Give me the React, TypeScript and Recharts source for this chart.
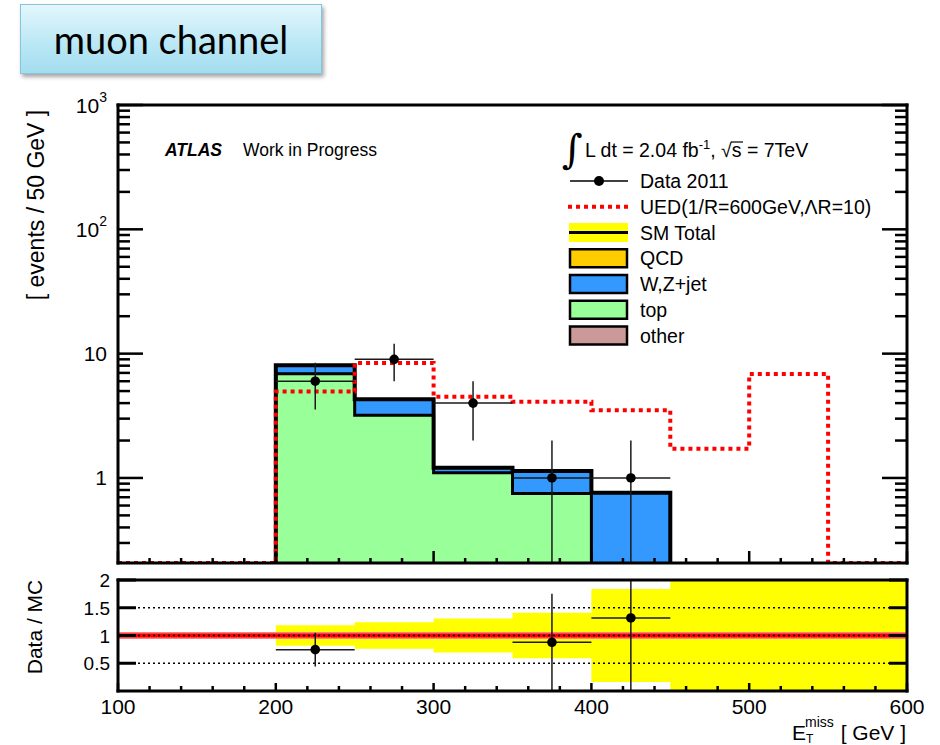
import React from "react";
import {
  ComposedChart,
  Area,
  Line,
  Scatter,
  ErrorBar,
  XAxis,
  YAxis,
  ReferenceLine,
} from "recharts";

// lower edges of the 50 GeV missing-ET bins
const binLow = [100, 150, 200, 250, 300, 350, 400, 450, 500, 550];
const BIN_WIDTH = 50;

// expected events per bin (stacked bottom to top: other, top, W/Z+jet, QCD)
const otherYield = [0, 0, 0, 0, 0, 0, 0, 0, 0, 0];
const topYield = [0, 0, 6.9, 3.2, 1.1, 0.75, 0, 0, 0, 0];
const wzJetYield = [0, 0, 1.15, 1.1, 0.11, 0.39, 0.76, 0, 0, 0];
const qcdYield = [0, 0, 0, 0, 0, 0, 0, 0, 0, 0];

// signal model
const uedYield = [0, 0, 4.95, 8.4, 4.5, 4.1, 3.5, 1.72, 6.85, 0];

// observed events
const dataCounts = [0, 0, 6, 9, 4, 1, 1, 0, 0, 0];
const dataErrors = [0, 0, 2.45, 3, 2, 1, 1, 0, 0, 0];

// relative MC uncertainty for the ratio band (null = no prediction)
const mcRelErr = [null, null, 0.185, 0.237, 0.306, 0.41, 0.84, 1, 1, 1];

const xMajorTicks = [100, 200, 300, 400, 500, 600];
const logMajorTicks = [1, 10, 100, 1000];
const ratioTicks = [0.5, 1, 1.5, 2];

const Y_MIN = 0.207;
const Y_MAX = 1000;
const RATIO_MAX = 2;

const FONT = "'Liberation Sans', Arial, Helvetica, sans-serif";
const TICK_W = 2.5;
const frameLine = { stroke: "#000", strokeWidth: 3, strokeLinecap: "square" as const };

// minor ticks every 20 GeV
const xTicks: number[] = [];
for (let v = 100; v <= 600; v += 20) xTicks.push(v);

// log ticks: 1..9 per decade inside the range
const logTicks: number[] = [];
[0.1, 1, 10, 100].forEach((d) => {
  for (let k = 1; k <= 9; k++) {
    const v = Number((k * d).toPrecision(3));
    if (v >= Y_MIN) logTicks.push(v);
  }
});
logTicks.push(1000);

type Pt = { x: number; y: number };

// cumulative stack heights
const layersIn = [otherYield, topYield, wzJetYield, qcdYield];
const [stackOther, stackTop, stackWZ, stackQCD] = layersIn.map((_, k) =>
  binLow.map((__, i) => layersIn.slice(0, k + 1).reduce((s, l) => s + l[i], 0))
);
const mcTotal = stackQCD;

const stackLayers = [
  { name: "QCD", own: qcdYield, values: stackQCD, fill: "#ffcc00" },
  { name: "W,Z+jet", own: wzJetYield, values: stackWZ, fill: "#3399ff" },
  { name: "top", own: topYield, values: stackTop, fill: "#99ff99" },
  { name: "other", own: otherYield, values: stackOther, fill: "#cc9999" },
].filter((l) => l.own.some((v) => v > 0));

// step points of a histogram; trimmed ones drop down to the axis floor at both ends
function histSteps(values: number[], trim: boolean): Pt[] {
  let first = 0;
  let last = values.length - 1;
  if (trim) {
    first = values.findIndex((v) => v > 0);
    if (first < 0) return [];
    while (values[last] <= 0) last--;
  }
  const hi = binLow[last] + BIN_WIDTH;
  const pts: Pt[] = [];
  if (trim) pts.push({ x: binLow[first], y: Y_MIN });
  for (let i = first; i <= last; i++) pts.push({ x: binLow[i], y: Math.max(values[i], Y_MIN) });
  pts.push({ x: hi, y: Math.max(values[last], Y_MIN) });
  if (trim) pts.push({ x: hi, y: Y_MIN });
  return pts;
}

const centers = binLow.map((b) => b + BIN_WIDTH / 2);

// error bars are cut at the panel edges
const dataPoints = binLow
  .map((_, i) => ({
    x: centers[i],
    y: dataCounts[i],
    ex: BIN_WIDTH / 2,
    ey: [Math.min(dataErrors[i], dataCounts[i] - Y_MIN), Math.min(dataErrors[i], Y_MAX - dataCounts[i])],
  }))
  .filter((p) => p.y > 0);

const ratioPoints = binLow
  .map((_, i) => {
    const mc = mcTotal[i];
    if (!(mc > 0) || dataCounts[i] <= 0) return null;
    const r = dataCounts[i] / mc;
    const e = dataErrors[i] / mc;
    return { x: centers[i], y: r, ex: BIN_WIDTH / 2, ey: [Math.min(e, r), Math.min(e, RATIO_MAX - r)] };
  })
  .filter((p): p is { x: number; y: number; ex: number; ey: number[] } => p !== null && p.y <= RATIO_MAX);

const bandIdx = binLow.map((_, i) => i).filter((i) => mcRelErr[i] !== null);
const bandPoints = bandIdx.map((i) => ({ x: binLow[i], band: [1 - (mcRelErr[i] as number), 1 + (mcRelErr[i] as number)] }));
if (bandIdx.length) {
  const li = bandIdx[bandIdx.length - 1];
  bandPoints.push({ x: binLow[li] + BIN_WIDTH, band: bandPoints[bandPoints.length - 1].band });
}

function makeXTick(dir: number, majorLen: number, minorLen: number, withLabel: boolean) {
  return (props: any) => {
    const { x, y, payload } = props;
    const v = payload.value as number;
    const major = xMajorTicks.includes(v);
    return (
      <g>
        <line x1={x} y1={y} x2={x} y2={y + dir * (major ? majorLen : minorLen)} stroke="#000" strokeWidth={TICK_W} />
        {withLabel && major && (
          <text x={x} y={y + 23} textAnchor="middle" fontSize={21} fontFamily={FONT} fill="#000">
            {v}
          </text>
        )}
      </g>
    );
  };
}

function makeLogTick(dir: number, withLabel: boolean) {
  return (props: any) => {
    const { x, y, payload } = props;
    const v = payload.value as number;
    const major = logMajorTicks.includes(v);
    const exp = Math.round(Math.log10(v));
    return (
      <g>
        <line x1={x} y1={y} x2={x + dir * (major ? 25 : 12)} y2={y} stroke="#000" strokeWidth={TICK_W} />
        {withLabel && major && (
          <text x={x - 11} y={y + 7.5} textAnchor="end" fontSize={21} fontFamily={FONT} fill="#000">
            {exp >= 2 ? (
              <>
                10
                <tspan dy={-11} fontSize={14}>
                  {exp}
                </tspan>
              </>
            ) : (
              String(v)
            )}
          </text>
        )}
      </g>
    );
  };
}

function makeRatioTick(dir: number, withLabel: boolean) {
  return (props: any) => {
    const { x, y, payload } = props;
    return (
      <g>
        <line x1={x} y1={y} x2={x + dir * 18} y2={y} stroke="#000" strokeWidth={3} />
        {withLabel && (
          <text x={x - 8} y={y + 7} textAnchor="end" fontSize={19} fontFamily={FONT} fill="#000">
            {payload.value}
          </text>
        )}
      </g>
    );
  };
}

// axes are 1px thick so that they render; ticks and labels are drawn by the tick renderers
const axisBase = { tickLine: false, tickSize: 0, tickMargin: 0, interval: 0 as const, axisLine: frameLine };

const legendItems = [
  { label: "Data 2011", kind: "data", fill: "" },
  { label: "UED(1/R=600GeV,\u039BR=10)", kind: "ued", fill: "" },
  { label: "SM Total", kind: "sm", fill: "" },
  { label: "QCD", kind: "box", fill: "#ffcc00" },
  { label: "W,Z+jet", kind: "box", fill: "#3399ff" },
  { label: "top", kind: "box", fill: "#99ff99" },
  { label: "other", kind: "box", fill: "#cc9999" },
];

const MainPanel = () => (
  <ComposedChart width={940} height={575} margin={{ top: 104, right: 32, bottom: 11, left: 117 }}>
    {stackLayers.map((l) => (
      <Area
        key={l.name}
        data={histSteps(l.values, true)}
        dataKey="y"
        type="stepAfter"
        baseValue={Y_MIN}
        fill={l.fill}
        fillOpacity={1}
        stroke="none"
        isAnimationActive={false}
      />
    ))}
    {stackLayers.slice(1).map((l) => (
      <Line
        key={l.name + "-edge"}
        data={histSteps(l.values, true)}
        dataKey="y"
        type="stepAfter"
        stroke="#000"
        strokeWidth={3}
        dot={false}
        isAnimationActive={false}
      />
    ))}
    <Line
      data={histSteps(mcTotal, true)}
      dataKey="y"
      type="stepAfter"
      stroke="#000"
      strokeWidth={4}
      dot={false}
      isAnimationActive={false}
    />
    <Line
      data={histSteps(uedYield, false)}
      dataKey="y"
      type="stepAfter"
      stroke="#ff0000"
      strokeWidth={4}
      strokeDasharray="4 4"
      dot={false}
      isAnimationActive={false}
    />
    <Scatter
      data={dataPoints}
      isAnimationActive={false}
      shape={(p: any) => <circle cx={p.cx} cy={p.cy} r={4.8} fill="#000" />}
    >
      <ErrorBar dataKey="ey" direction="y" width={0} stroke="#1a1a1a" strokeWidth={1.5} isAnimationActive={false} />
      <ErrorBar dataKey="ex" direction="x" width={0} stroke="#1a1a1a" strokeWidth={1.5} isAnimationActive={false} />
    </Scatter>
    <XAxis dataKey="x" type="number" domain={[100, 600]} allowDataOverflow ticks={xTicks} height={1} tick={makeXTick(-1, 12, 5, false)} {...axisBase} />
    <XAxis xAxisId="top" orientation="top" type="number" domain={[100, 600]} allowDataOverflow ticks={xTicks} height={1} tick={makeXTick(1, 12, 5, false)} {...axisBase} />
    <YAxis dataKey="y" scale="log" type="number" domain={[Y_MIN, Y_MAX]} allowDataOverflow ticks={logTicks} width={1} tick={makeLogTick(1, true)} {...axisBase} />
    <YAxis yAxisId="right" orientation="right" scale="log" type="number" domain={[Y_MIN, Y_MAX]} allowDataOverflow ticks={logTicks} width={1} tick={makeLogTick(-1, false)} {...axisBase} />
  </ComposedChart>
);

const RatioPanel = () => (
  <ComposedChart width={940} height={175} margin={{ top: 9, right: 32, bottom: 53, left: 117 }}>
    <Area data={bandPoints} dataKey="band" type="stepAfter" fill="#ffff00" fillOpacity={1} stroke="none" isAnimationActive={false} />
    <ReferenceLine y={1} stroke="#ff8080" strokeWidth={7} />
    <ReferenceLine y={1} stroke="#ff0000" strokeWidth={4} />
    <ReferenceLine y={0.5} stroke="#000" strokeWidth={1.5} strokeDasharray="2 3" />
    <ReferenceLine y={1} stroke="#000" strokeWidth={1.5} strokeDasharray="2 3" />
    <ReferenceLine y={1.5} stroke="#000" strokeWidth={1.5} strokeDasharray="2 3" />
    <Scatter
      data={ratioPoints}
      isAnimationActive={false}
      shape={(p: any) => <circle cx={p.cx} cy={p.cy} r={4.8} fill="#000" />}
    >
      <ErrorBar dataKey="ey" direction="y" width={0} stroke="#1a1a1a" strokeWidth={1.5} isAnimationActive={false} />
      <ErrorBar dataKey="ex" direction="x" width={0} stroke="#1a1a1a" strokeWidth={1.5} isAnimationActive={false} />
    </Scatter>
    <XAxis dataKey="x" type="number" domain={[100, 600]} allowDataOverflow ticks={xTicks} height={1} tick={makeXTick(-1, 8, 5, true)} {...axisBase} />
    <XAxis xAxisId="top" orientation="top" type="number" domain={[100, 600]} allowDataOverflow ticks={xTicks} height={1} tick={makeXTick(1, 8, 5, false)} {...axisBase} />
    <YAxis dataKey="y" type="number" domain={[0, RATIO_MAX]} allowDataOverflow ticks={ratioTicks} width={1} tick={makeRatioTick(1, true)} {...axisBase} />
    <YAxis yAxisId="right" orientation="right" type="number" domain={[0, RATIO_MAX]} allowDataOverflow ticks={ratioTicks} width={1} tick={makeRatioTick(-1, false)} {...axisBase} />
  </ComposedChart>
);

const Annotations = () => {
  const y0 = 181;
  const step = 25.75;
  return (
    <svg width={940} height={745} style={{ position: "absolute", left: 0, top: 0, pointerEvents: "none" }} fontFamily={FONT}>
      <text transform="translate(36,205) rotate(-90)" textAnchor="middle" dominantBaseline="central" fontSize={23}>
        [ events / 50 GeV ]
      </text>
      <text transform="translate(34,627) rotate(-90)" textAnchor="middle" dominantBaseline="central" fontSize={21}>
        Data / MC
      </text>
      <text x={792} y={740} fontSize={21}>E</text>
      <text x={805} y={727} fontSize={14}>miss</text>
      <text x={806} y={743} fontSize={12}>T</text>
      <text x={906} y={740} fontSize={21} textAnchor="end">[ GeV ]</text>

      <text x={165} y={156} fontSize={17.5} fontWeight="bold" fontStyle="italic">ATLAS</text>
      <text x={243} y={156} fontSize={17.5}>Work in Progress</text>

      <text x={562} y={163} fontSize={40} fontFamily="'DejaVu Serif', serif">{"\u222B"}</text>
      <text x={585} y={157} fontSize={19.5}>
        L dt = 2.04 fb
        <tspan dy={-8} fontSize={13}>-1</tspan>
        <tspan dy={8}>, {"\u221A"}s = 7TeV</tspan>
      </text>
      {/* vinculum of the square root over s */}
      <line x1={731} x2={743} y1={142} y2={142} stroke="#000" strokeWidth={1.2} />

      {legendItems.map((it, k) => {
        const cy = y0 + k * step;
        return (
          <g key={it.label}>
            {it.kind === "data" && (
              <>
                <line x1={570} x2={628} y1={cy} y2={cy} stroke="#000" strokeWidth={1.5} />
                <circle cx={599} cy={cy} r={5} fill="#000" />
              </>
            )}
            {it.kind === "ued" && (
              <line x1={568} x2={628} y1={cy} y2={cy} stroke="#ff0000" strokeWidth={4} strokeDasharray="4 4" />
            )}
            {it.kind === "sm" && (
              <>
                <rect x={569} y={cy - 9.5} width={59} height={19} fill="#ffff00" />
                <line x1={569} x2={628} y1={cy} y2={cy} stroke="#000" strokeWidth={3} />
              </>
            )}
            {it.kind === "box" && (
              <rect x={570} y={cy - 9} width={57} height={18} fill={it.fill} stroke="#000" strokeWidth={2.5} />
            )}
            <text x={640} y={cy + 7} fontSize={19.5}>
              {it.label}
            </text>
          </g>
        );
      })}
    </svg>
  );
};

export default function App() {
  return (
    <div style={{ position: "absolute", left: 0, top: 0, width: 940, height: 745, background: "#fff", overflow: "hidden" }}>
      <div
        style={{
          position: "absolute",
          left: 20,
          top: 4,
          width: 302,
          height: 70,
          boxSizing: "border-box",
          border: "1px solid #86c5da",
          background: "linear-gradient(180deg, #e3f6fc 0%, #b8e7f5 60%, #a4ddef 100%)",
          boxShadow: "2px 3px 4px rgba(0,0,0,0.35)",
          display: "flex",
          alignItems: "center",
          justifyContent: "center",
          fontFamily: "Lato, 'Open Sans', sans-serif",
          fontSize: 38,
          color: "#000",
        }}
      >
        muon channel
      </div>
      <div style={{ position: "absolute", left: 0, top: 0 }}>
        <MainPanel />
      </div>
      <div style={{ position: "absolute", left: 0, top: 570 }}>
        <RatioPanel />
      </div>
      <Annotations />
    </div>
  );
}
